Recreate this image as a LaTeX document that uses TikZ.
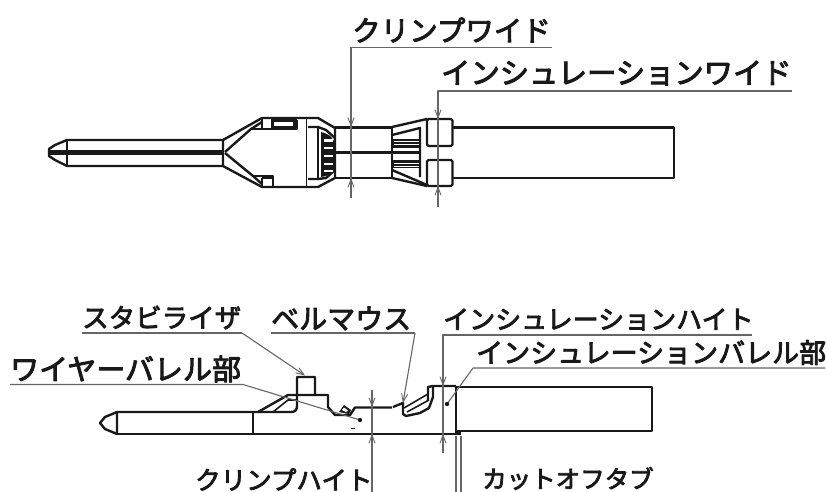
\documentclass[tikz,border=0pt]{standalone}
\usepackage{fontspec}
\newfontfamily\jpfont[FakeBold=3.2]{Noto Sans CJK JP}
\usetikzlibrary{arrows.meta}

\begin{document}
\begin{tikzpicture}[x=1pt,y=-1pt,line join=round,
	part/.style={line width=2.4pt,black!90},
	thinpart/.style={line width=1.6pt,black!90},
	leader/.style={line width=1.1pt,black!60},
	dimtip/.style={leader,-{Straight Barb[length=8pt,width=6pt,line width=.9pt]}},
	lab/.style={anchor=west,inner sep=0pt,black!90,font=\jpfont\fontsize{#1}{#1}\selectfont},
]
\useasboundingbox (0,0) rectangle (827,492);

% upper view: pin
\draw[part] (67,140) -- (55,145) -- (49,149) -- (49,156) -- (55,160) -- (67,166) -- (223,166) -- (223,140) -- cycle;
\draw[line width=4.4pt,black!90] (49,152.5) -- (223,152.5);
\draw[thinpart] (67,140) -- (67,166);

% upper view: funnel and box
\draw[part] (223,140) -- (262,118) -- (318,118) -- (335,128) -- (335,178) -- (318,187) -- (262,187) -- (223,166);
\draw[part] (225,152) -- (251,129) -- (262,122);
\draw[part] (225,153) -- (253,176) -- (262,184);
\draw[part] (251,129) -- (297,129) -- (297,120);
\draw[part] (262,118) -- (262,129);
\fill[black!90] (271,119) rectangle (297,129);
\fill[white] (274,122.5) rectangle (293,126.5);
\draw[part] (253,176) -- (273,176) -- (273,187);
\draw[part] (262,178) -- (273,178);
\draw[part] (262,178) -- (262,187);
\draw[thinpart] (306.5,118) -- (306.5,187);
\draw[part] (308,127) -- (318,127) -- (326,130) -- (335,138);
\draw[part] (308,179) -- (318,179) -- (326,178) -- (335,170);
\draw[part] (318,127) -- (318,179);

% upper view: cap with slots
\fill[black!90] (321,132) .. controls (329,134) and (335,138) .. (335,146) -- (335,166) .. controls (335,172) and (329,176) .. (321,177) -- cycle;
\foreach \yy in {139.5,147,155,163,169.5}
	\fill[white] (324,\yy) rectangle (333,\yy+2.4);

% upper view: crimp part
\draw[part] (335,127.5) -- (392,127.5) -- (392,178) -- (335,178);
\draw[part] (335,152.5) -- (393,152.5);

% upper view: taper with teeth
\draw[part] (392,127) -- (427,119);
\draw[part] (392,135) -- (420,128) -- (420,177);
\draw[part] (392,170) -- (427,185);
\draw[part] (392,178) -- (427,186);
\fill[black!90] (392,139) rectangle (420,148);
\fill[black!90] (392,160) rectangle (420,168);
\foreach \yy in {141.5,144.5,155,162.5,165.5}
	\fill[white] (394,\yy) rectangle (419,\yy+1);
\draw[part] (392,152.5) -- (420,152.5);

% upper view: insulation tabs and wire
\draw[part,rounded corners=1.5pt] (427,119) rectangle (452.5,146);
\draw[part,rounded corners=1.5pt] (427,160) rectangle (452.5,186);
\draw[part] (452.5,127.5) -- (674,127.5) -- (674,178) -- (452.5,178);

% lower view: contact
\draw[part] (117,412) -- (105,417) -- (100,423) -- (105,429) -- (117,434) -- cycle;
\draw[part] (117,412) -- (258,412) -- (288,395) -- (328,395) -- (328,407) -- (335,415) -- (350,415) -- (355,407.5) -- (392,407.5);
\draw[part] (117,434) -- (461,434);
\draw[part] (253,412) -- (253,434);
\draw[part] (258,412) -- (291,412) .. controls (295,412) and (297,410) .. (297,406) -- (297,377) -- (315,377) -- (315,395);
\draw[thinpart] (273,412) -- (288,400) -- (296,400);
\fill[black!90] (339,412) -- (344,405) -- (351,410) -- (349,414) -- cycle;
\fill[white] (342,410) -- (344,407.5) -- (348,410.5) -- (346,412) -- cycle;
\fill[black!90] (351,427.5) rectangle (355,428.5);

% lower view: bellmouth and insulation barrel
\draw[part] (393,407) -- (403,403) -- (403,414) -- (406,416) -- (420,413) -- (429,408) -- (433,397) -- (433,387);
\draw[thinpart] (404,408) -- (428,394);
\draw[thinpart] (407,412) -- (429,400);
\draw[part] (428,400) -- (428,387) -- (433,386) -- (456,386);
\draw[line width=2.8pt,black!90] (456,386) -- (456,432);
\fill[black!90] (455,431) rectangle (461,435);
\draw[part] (456,387) -- (652,387) -- (652,431) -- (456,431);

% labels
\node[lab=28.5] (crimpwide) at (352,30) {クリンプワイド};
\node[lab=29.3] (inswide) at (441,73) {インシュレーションワイド};
\node[lab=26.5] (stabilizer) at (82,317.5) {スタビライザ};
\node[lab=28] (bellmouth) at (271,318.5) {ベルマウス};
\node[lab=26] (insheight) at (443,319.5) {インシュレーションハイト};
\node[lab=27] (insbarrel) at (476,352.5) {インシュレーションバレル部};
\node[lab=29] (wirebarrel) at (10,369) {ワイヤーバレル部};
\node[lab=25.5] (crimpheight) at (195,479.5) {クリンプハイト};
\node[lab=24.5] (cutofftab) at (482,478.5) {カットオフタブ};

% crimp wide
\coordinate (cwa) at (351,47.5);
\coordinate (cwb) at (552,47.5);
\coordinate (cwc) at (351,127);
\coordinate (cwd) at (351,178);
\coordinate (cwe) at (351,198);
\draw[leader] (cwb) -- (cwa) -- (cwe);
\draw[dimtip] (cwa) -- (cwc);
\draw[dimtip] (cwe) -- (cwd);

% insulation wide
\coordinate (iwa) at (438,91);
\coordinate (iwb) at (792,91);
\coordinate (iwc) at (438,119);
\coordinate (iwd) at (438,186);
\coordinate (iwe) at (438,207);
\draw[leader] (iwb) -- (iwa) -- (iwe);
\draw[dimtip] (iwa) -- (iwc);
\draw[dimtip] (iwe) -- (iwd);

% stabilizer and bellmouth
\coordinate (sta) at (82,333);
\coordinate (stb) at (242,333);
\coordinate (stc) at (305,375.5);
\draw[leader] (sta) -- (stb);
\draw[dimtip] (stb) -- (stc);
\coordinate (bma) at (271,333);
\coordinate (bmb) at (415,333);
\coordinate (bmc) at (403,403);
\draw[leader] (bma) -- (bmb);
\draw[dimtip] (bmb) -- (bmc);

% insulation height
\coordinate (iha) at (752,335);
\coordinate (ihb) at (443,335);
\coordinate (ihc) at (443,386);
\coordinate (ihd) at (443,434);
\coordinate (ihe) at (443,453);
\draw[leader] (iha) -- (ihb) -- (ihe);
\draw[dimtip] (ihb) -- (ihc);
\draw[dimtip] (ihe) -- (ihd);

% insulation barrel
\coordinate (iba) at (825,368);
\coordinate (ibb) at (473,368);
\coordinate (ibc) at (447,404);
\draw[leader] (iba) -- (ibb) -- (ibc);
\fill[black!90] (ibc) circle (2.2pt);

% wire barrel
\coordinate (wba) at (10,384.5);
\coordinate (wbb) at (243,384.5);
\coordinate (wbc) at (360,420);
\draw[leader] (wba) -- (wbb) -- (wbc);
\fill[black!90] (wbc) circle (2.2pt);

% crimp height
\coordinate (cha) at (372,390);
\coordinate (chb) at (372,407);
\coordinate (chc) at (372,434);
\coordinate (chd) at (372,492);
\draw[leader] (cha) -- (chd);
\draw[dimtip] (cha) -- (chb);
\draw[dimtip] (chd) -- (chc);

% cut-off tab
\coordinate (cta) at (456,436);
\coordinate (ctb) at (456,492);
\coordinate (ctc) at (461,436);
\coordinate (ctd) at (461,492);
\draw[leader] (cta) -- (ctb);
\draw[leader] (ctc) -- (ctd);

\end{tikzpicture}
\end{document}
